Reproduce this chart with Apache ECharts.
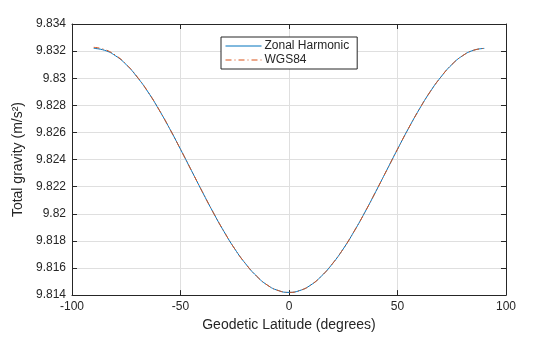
<!DOCTYPE html>
<html><head><meta charset="utf-8">
<script src="https://cdn.jsdelivr.net/npm/echarts@6/dist/echarts.min.js"></script>
<style>html,body{margin:0;padding:0;background:#fff}#c{width:560px;height:337px}</style>
</head><body><div id="c"></div>
<script>
var latitudes = [-90,-85,-80,-75,-70,-65,-60,-55,-50,-45,-40,-35,-30,-25,-20,-15,-10,-5,0,5,10,15,20,25,30,35,40,45,50,55,60,65,70,75,80,85,90];
var zonalHarmonic = [9.8322,9.83206,9.83166,9.83100,9.83009,9.82899,9.8277,9.82628,9.82476,9.8232,9.82164,9.82012,9.8187,9.81741,9.81631,9.81541,9.81474,9.81434,9.8142,9.81434,9.81474,9.81541,9.81631,9.81741,9.8187,9.82012,9.82164,9.8232,9.82476,9.82628,9.8277,9.82899,9.83009,9.83100,9.83166,9.83206,9.8322];
var wgs84 = [9.83228,9.83212,9.83170,9.83103,9.83011,9.82900,9.82771,9.82628,9.82476,9.8232,9.82164,9.82012,9.8187,9.81741,9.81631,9.81541,9.81474,9.81434,9.8142,9.81434,9.81474,9.81541,9.81631,9.81741,9.8187,9.82012,9.82164,9.8232,9.82476,9.82628,9.8277,9.82899,9.83009,9.83100,9.83166,9.83206,9.8322];
var xTicks = [-100,-50,0,50,100];
var yMin = 9.814, yMax = 9.834, yStep = 0.002;

function pairs(xs, ys){ return xs.map(function(x,i){return [x, ys[i]];}); }
var font = 'Liberation Sans, Arial, sans-serif';
var txt = '#262626';
var chart = echarts.init(document.getElementById('c'));
var axisCommon = {
  axisLine:{show:true,onZero:false,lineStyle:{color:txt,width:1}},
  axisTick:{show:true,inside:true,length:5,lineStyle:{color:txt}},
  axisLabel:{color:txt,fontFamily:font,fontSize:12}
};
chart.setOption({
  animation:false,
  grid:{left:72,right:54,top:24,bottom:40,containLabel:false},
  legend:{
    left:221, top:37, orient:'vertical', itemGap:2, itemWidth:36, itemHeight:11,
    padding:[3,8,3,4], backgroundColor:'#fff', borderColor:'#262626', borderWidth:1, borderRadius:0,
    textStyle:{color:txt,fontFamily:font,fontSize:12,padding:[0,0,0,-2]},
    itemStyle:{opacity:0,borderWidth:0},
    lineStyle:{width:1},
    data:['Zonal Harmonic','WGS84']
  },
  xAxis:[Object.assign({}, axisCommon, {
    type:'value', min:xTicks[0], max:xTicks[xTicks.length-1], interval:50, position:'bottom',
    name:'Geodetic Latitude (degrees)', nameLocation:'middle', nameGap:22,
    nameTextStyle:{color:txt,fontFamily:font,fontSize:14},
    axisLabel:{color:txt,fontFamily:font,fontSize:12,margin:6},
    splitLine:{show:true,lineStyle:{color:'#dfdfdf',width:1}}
  }),{
    type:'value', min:xTicks[0], max:xTicks[xTicks.length-1], interval:50, position:'top',
    axisLine:{show:true,onZero:false,lineStyle:{color:txt}}, axisTick:{show:true,inside:true,length:5,lineStyle:{color:txt}},
    axisLabel:{show:false}, splitLine:{show:false}
  }],
  yAxis:[Object.assign({}, axisCommon, {
    type:'value', min:yMin, max:yMax, interval:yStep, position:'left',
    name:'Total gravity (m/s²)', nameLocation:'middle', nameGap:42, nameRotate:90,
    nameTextStyle:{color:txt,fontFamily:font,fontSize:14},
    axisLabel:{color:txt,fontFamily:font,fontSize:12,margin:6,
      formatter:function(v){return parseFloat(v.toFixed(3)).toString();}},
    splitLine:{show:true,lineStyle:{color:'#dfdfdf',width:1}}
  }),{
    type:'value', min:yMin, max:yMax, interval:yStep, position:'right',
    axisLine:{show:true,onZero:false,lineStyle:{color:txt}}, axisTick:{show:true,inside:true,length:5,lineStyle:{color:txt}},
    axisLabel:{show:false}, splitLine:{show:false}
  }],
  series:[{
    name:'Zonal Harmonic', type:'line', smooth:true, showSymbol:false, symbol:'none',
    data:pairs(latitudes, zonalHarmonic),
    lineStyle:{color:'#0072BD',width:1}, itemStyle:{color:'#0072BD'}
  },{
    name:'WGS84', type:'line', smooth:true, showSymbol:false, symbol:'none',
    data:pairs(latitudes, wgs84),
    lineStyle:{color:'#D95319',width:1,type:[6,3,1,3]}, itemStyle:{color:'#D95319'}
  }]
});
</script></body></html>
